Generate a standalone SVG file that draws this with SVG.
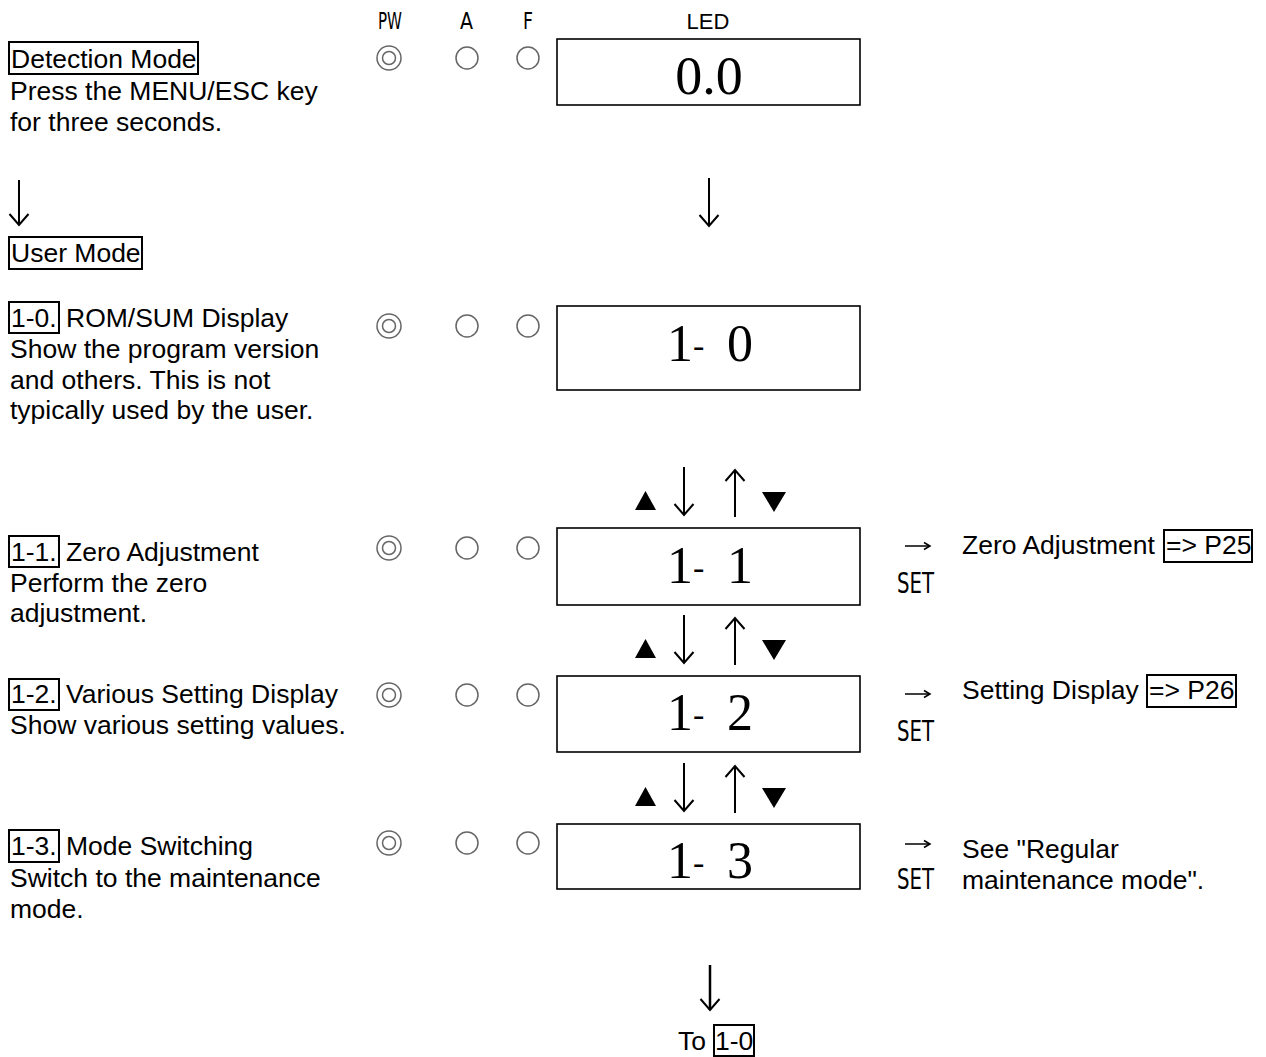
<svg xmlns="http://www.w3.org/2000/svg" width="1266" height="1057" viewBox="0 0 1266 1057">
<defs>
<style>
.t{font-family:"Liberation Sans",Arial,sans-serif;font-size:26.5px;fill:#000}
.h{font-family:"DejaVu Sans","Liberation Sans",sans-serif;font-size:23px;fill:#000}
.led{font-family:"Liberation Serif","Times New Roman",serif;font-size:52px;fill:#000}
.hy{font-size:34px}
.box{fill:none;stroke:#000;stroke-width:2}
.lbox{fill:#fff;stroke:#000;stroke-width:1.6}
.lamp{fill:none;stroke:#666;stroke-width:1.5}
.arr{fill:none;stroke:#000;stroke-width:2}
.sarr{fill:none;stroke:#000;stroke-width:1.5}
.tri{fill:#000}
</style>
<marker id="ah" markerUnits="userSpaceOnUse" markerWidth="30" markerHeight="30" viewBox="-15 -15 30 30" refX="0" refY="0" orient="auto"><path d="M-11,-9.5 L0,0 L-11,9.5" fill="none" stroke="#000" stroke-width="2"/></marker>
<marker id="sh" markerUnits="userSpaceOnUse" markerWidth="16" markerHeight="16" viewBox="-8 -8 16 16" refX="0" refY="0" orient="auto"><path d="M-6,-3.5 L0,0 L-6,3.5" fill="none" stroke="#000" stroke-width="1.5"/></marker>
<g id="lamps">
<circle cx="389" cy="0" r="12" class="lamp"/><circle cx="389" cy="0" r="6.5" class="lamp"/>
<circle cx="467" cy="0" r="11" class="lamp"/>
<circle cx="528" cy="0" r="11" class="lamp"/>
</g>
</defs>
<rect width="1266" height="1057" fill="#fff"/>

<g id="header">
<text class="h" x="378" y="29" textLength="24" lengthAdjust="spacingAndGlyphs">PW</text>
<text class="h" x="460" y="29" textLength="13" lengthAdjust="spacingAndGlyphs">A</text>
<text class="h" x="523" y="29" textLength="10" lengthAdjust="spacingAndGlyphs">F</text>
<text x="708" y="29" text-anchor="middle" style="font-family:'Liberation Sans',Arial,sans-serif;font-size:22px">LED</text>
</g>

<g id="detection">
<rect class="box" x="9" y="42" width="189" height="32"/>
<text class="t" x="11" y="68">Detection Mode</text>
<text class="t" x="10" y="100">Press the MENU/ESC key</text>
<text class="t" x="10" y="131">for three seconds.</text>
<use href="#lamps" y="58"/>
<rect class="lbox" x="557" y="39" width="303" height="66"/>
<text class="led" x="709" y="94" text-anchor="middle" style="font-size:54px">0.0</text>
</g>

<g id="usermode">
<rect class="box" x="9" y="237" width="133" height="32"/>
<text class="t" x="11" y="262">User Mode</text>
</g>

<g id="row10">
<rect class="box" x="9" y="302" width="50" height="31"/>
<text class="t" x="11" y="327">1-0.</text>
<text class="t" x="66" y="327">ROM/SUM Display</text>
<text class="t" x="10" y="358">Show the program version</text>
<text class="t" x="10" y="389">and others. This is not</text>
<text class="t" x="10" y="419">typically used by the user.</text>
<use href="#lamps" y="326"/>
<rect class="lbox" x="557" y="306" width="303" height="84"/>
<text class="led" x="667" y="361">1<tspan class="hy" dy="-4">- </tspan><tspan x="727" dy="4">0</tspan></text>
</g>

<g id="row11">
<rect class="box" x="9" y="536" width="50" height="31"/>
<text class="t" x="11" y="561">1-1.</text>
<text class="t" x="66" y="561">Zero Adjustment</text>
<text class="t" x="10" y="592">Perform the zero</text>
<text class="t" x="10" y="622">adjustment.</text>
<use href="#lamps" y="548"/>
<rect class="lbox" x="557" y="528" width="303" height="77"/>
<text class="led" x="667" y="583">1<tspan class="hy" dy="-4">- </tspan><tspan x="727" dy="4">1</tspan></text>
<text class="h" x="897" y="593" textLength="37" lengthAdjust="spacingAndGlyphs" style="font-size:28px">SET</text>
<text class="t" x="962" y="554">Zero Adjustment</text>
<rect class="box" x="1164" y="530" width="88" height="32"/>
<text class="t" x="1166" y="554">=&gt; P25</text>
</g>

<g id="row12">
<rect class="box" x="9" y="679" width="50" height="31"/>
<text class="t" x="11" y="703">1-2.</text>
<text class="t" x="66" y="703">Various Setting Display</text>
<text class="t" x="10" y="734">Show various setting values.</text>
<use href="#lamps" y="695"/>
<rect class="lbox" x="557" y="676" width="303" height="76"/>
<text class="led" x="667" y="730">1<tspan class="hy" dy="-4">- </tspan><tspan x="727" dy="4">2</tspan></text>
<text class="h" x="897" y="741" textLength="37" lengthAdjust="spacingAndGlyphs" style="font-size:28px">SET</text>
<text class="t" x="962" y="699">Setting Display</text>
<rect class="box" x="1147" y="675" width="89" height="32"/>
<text class="t" x="1149" y="699">=&gt; P26</text>
</g>

<g id="row13">
<rect class="box" x="9" y="830" width="50" height="32"/>
<text class="t" x="11" y="855">1-3.</text>
<text class="t" x="66" y="855">Mode Switching</text>
<text class="t" x="10" y="887">Switch to the maintenance</text>
<text class="t" x="10" y="918">mode.</text>
<use href="#lamps" y="843"/>
<rect class="lbox" x="557" y="824" width="303" height="65"/>
<text class="led" x="667" y="878">1<tspan class="hy" dy="-4">- </tspan><tspan x="727" dy="4">3</tspan></text>
<text class="h" x="897" y="889" textLength="37" lengthAdjust="spacingAndGlyphs" style="font-size:28px">SET</text>
<text class="t" x="962" y="858">See "Regular</text>
<text class="t" x="962" y="889">maintenance mode".</text>
</g>

<g id="to10">
<text class="t" x="678" y="1050">To</text>
<rect class="box" x="714" y="1025" width="40" height="31"/>
<text class="t" x="715" y="1050">1-0</text>
</g>

<g id="connectors">
<line class="arr" x1="19" y1="180" x2="19" y2="225" marker-end="url(#ah)"/>
<line class="arr" x1="709" y1="178" x2="709" y2="226" marker-end="url(#ah)"/>
<line class="arr" x1="710" y1="965" x2="710" y2="1010" marker-end="url(#ah)" style="stroke-width:2.5"/>
<g id="nav1">
<polygon class="tri" points="635,510 656,510 645.5,491"/>
<line class="arr" x1="684" y1="467" x2="684" y2="515" marker-end="url(#ah)"/>
<line class="arr" x1="735" y1="517" x2="735" y2="470" marker-end="url(#ah)"/>
<polygon class="tri" points="762,492 786,492 774,512"/>
</g>
<use href="#nav1" y="148"/>
<use href="#nav1" y="296"/>
<line class="sarr" x1="905" y1="546" x2="930" y2="546" marker-end="url(#sh)"/>
<line class="sarr" x1="905" y1="694" x2="930" y2="694" marker-end="url(#sh)"/>
<line class="sarr" x1="905" y1="844" x2="930" y2="844" marker-end="url(#sh)"/>
</g>
</svg>
